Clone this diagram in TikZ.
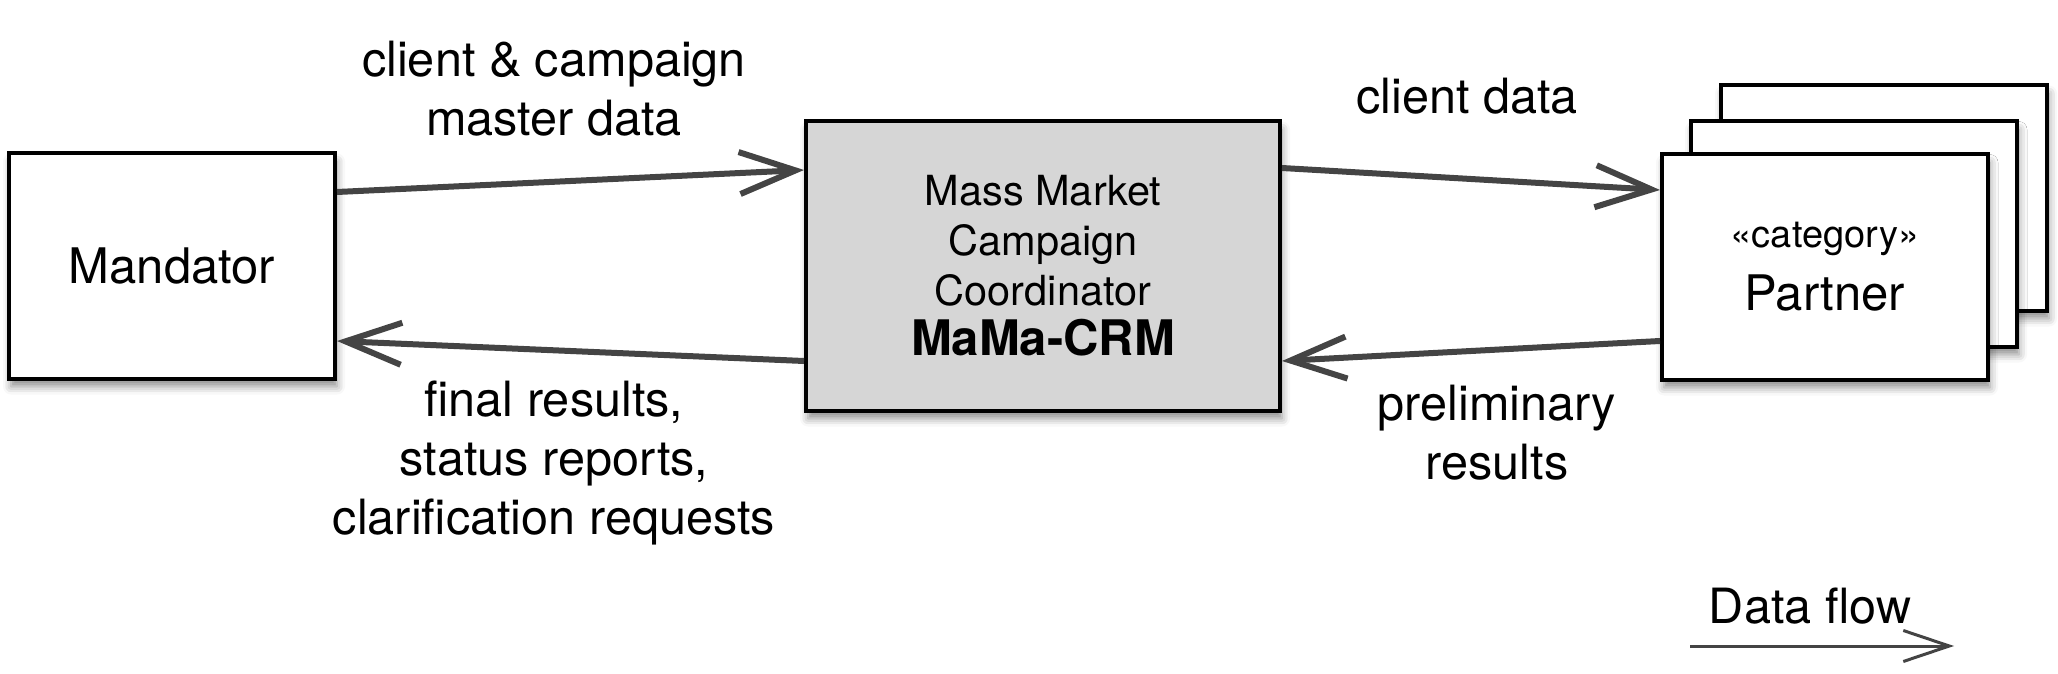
\documentclass[tikz,border=0pt]{standalone}
\usepackage{fontspec}
\setmainfont{TeX Gyre Heros}
\usetikzlibrary{arrows.meta,shadows.blur}
\definecolor{arr}{HTML}{444444}
\definecolor{boxgray}{HTML}{D6D6D6}
\begin{document}
\begin{tikzpicture}[x=0.5pt,y=-0.5pt,
 box/.style={draw=black, line width=2pt, fill=white, minimum width=163pt, minimum height=112.5pt, inner sep=0pt,
   blur shadow={shadow xshift=1pt, shadow yshift=-4pt, shadow blur radius=4pt, shadow opacity=45}},
 lbl/.style={align=center, font=\fontsize{24.3}{29.4}\selectfont, inner sep=0pt},
 link/.style={draw=arr, line width=3pt, -{Straight Barb[length=28pt,width=21pt]}},
 flow/.style={draw=arr, line width=1.5pt, -{Straight Barb[length=23pt,width=15.5pt]}}
]
\useasboundingbox (0,0) rectangle (2058,674);
\node[box, font=\fontsize{24.5}{29}\selectfont] (mand) at (172,266) {Mandator};
\node[box, fill=boxgray, minimum width=237pt, minimum height=144.5pt, align=center, font=\fontsize{20.75}{25}\selectfont] (mama) at (1043,266) {Mass Market\\Campaign\\Coordinator\\{\fontsize{24.5}{25.5}\selectfont\bfseries MaMa-CRM}};
\node[box] (p3) at (1884,198) {};
\node[box] (p2) at (1854,234) {};
\node[box, align=center, font=\fontsize{24.5}{25.5}\selectfont] (p1) at (1825,267) {{\fontsize{19}{25.5}\selectfont «category»}\\[6pt]Partner};
\draw[link] ([yshift=37pt]mand.east) -- ([yshift=48pt]mama.west);
\draw[link] ([yshift=-47.5pt]mama.west) -- ([yshift=-37.5pt]mand.east);
\draw[link] ([yshift=49pt]mama.east) -- ([yshift=38.5pt]p1.west);
\draw[link] ([yshift=-37pt]p1.west) -- ([yshift=-47.5pt]mama.east);
\node[lbl] (l1) at (554,89) {client \& campaign\\master data};
\node[lbl] (l2) at (1467,96) {client data};
\node[lbl] (l3) at (554,463) {final results,\\status reports,\\clarification requests};
\node[lbl] (l4) at (1497,433) {preliminary\\results};
\node[lbl] (lf) at (1810,606) {Data flow};
\coordinate (fa) at (1690,646);
\coordinate (fb) at (1954,646);
\draw[flow] (fa) -- (fb);
\end{tikzpicture}
\end{document}
